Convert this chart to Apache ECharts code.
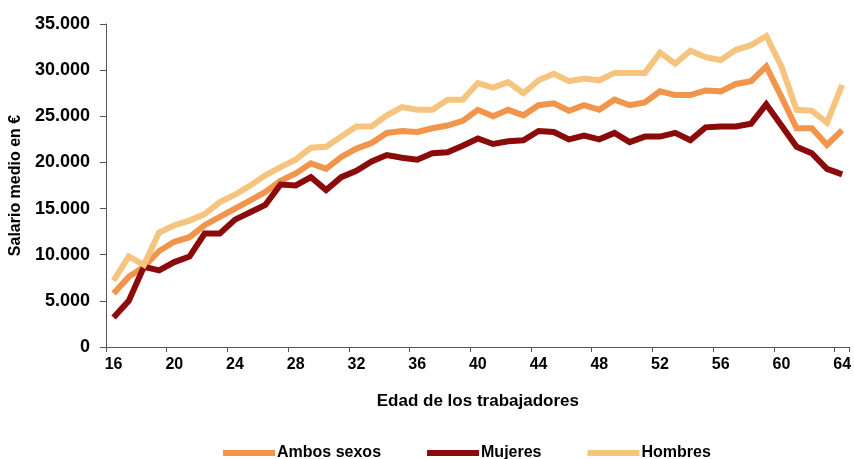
<!DOCTYPE html>
<html>
<head>
<meta charset="utf-8">
<script src="https://cdn.jsdelivr.net/npm/echarts@6/dist/echarts.min.js"></script>
<style>
html,body{margin:0;padding:0;background:#fff;}
#chart{width:854px;height:459px;}
</style>
</head>
<body>
<div id="chart"></div>
<script>
var ages = [];
for (var a = 16; a <= 64; a++) ages.push(String(a));

var ambos = [5800, 7600, 8700, 10400, 11400, 11900, 13200, 14100, 15000, 15900,
  16800, 18000, 18800, 19900, 19300, 20600, 21500, 22100, 23200, 23400,
  23300, 23700, 24000, 24500, 25700, 25000, 25700, 25100, 26200, 26400,
  25600, 26200, 25700, 26800, 26200, 26500, 27700, 27300, 27300, 27800,
  27700, 28500, 28800, 30400, 27100, 23700, 23700, 21900, 23500];

var mujeres = [3200, 5000, 8700, 8300, 9200, 9800, 12300, 12300, 13800, 14600,
  15400, 17600, 17500, 18400, 17000, 18400, 19100, 20100, 20800, 20500,
  20300, 21000, 21100, 21800, 22600, 22000, 22300, 22400, 23400, 23300,
  22500, 22900, 22500, 23200, 22200, 22800, 22800, 23200, 22400, 23800,
  23900, 23900, 24200, 26300, 24000, 21700, 21000, 19300, 18700];

var hombres = [7200, 9800, 8900, 12400, 13200, 13700, 14400, 15700, 16500, 17500,
  18600, 19500, 20300, 21600, 21700, 22800, 23900, 23900, 25100, 26000,
  25700, 25700, 26800, 26800, 28600, 28100, 28700, 27500, 28900, 29600,
  28800, 29100, 28900, 29700, 29700, 29700, 31900, 30700, 32100, 31400,
  31100, 32200, 32700, 33700, 30400, 25700, 25600, 24300, 28400];

var seriesNames = ['Ambos sexos', 'Mujeres', 'Hombres'];
var colors = ['#F0954B', '#8B0A0A', '#F5C47F'];

function fmt(v) {
  var s = String(Math.round(v));
  return s.replace(/\B(?=(\d{3})+(?!\d))/g, '.');
}

var font = '"Liberation Sans", Arial, sans-serif';
var chart = echarts.init(document.getElementById('chart'), null, {renderer: 'canvas'});

function mk(name, data, color) {
  return {
    name: name,
    type: 'line',
    data: data,
    showSymbol: false,
    symbol: 'none',
    lineStyle: {width: 6, color: color, cap: 'butt', join: 'miter'},
    itemStyle: {color: color},
    animation: false
  };
}

chart.setOption({
  animation: false,
  grid: {left: 106, right: 1, top: 24, bottom: 112, containLabel: false},
  legend: {
    data: seriesNames.map(function (n) { return {name: n, icon: 'rect'}; }),
    left: 218,
    top: 440,
    itemWidth: 52,
    itemHeight: 6,
    itemGap: 46,
    textStyle: {fontFamily: font, fontWeight: 'bold', fontSize: 16, color: '#000', padding: [0, 0, 0, -3]}
  },
  xAxis: {
    type: 'category',
    data: ages,
    boundaryGap: true,
    name: 'Edad de los trabajadores',
    nameLocation: 'middle',
    nameGap: 46,
    nameTextStyle: {fontFamily: font, fontWeight: 'bold', fontSize: 17, color: '#000', verticalAlign: 'top'},
    axisLine: {lineStyle: {color: '#555', width: 1}},
    axisTick: {show: true, interval: 3, length: 5, lineStyle: {color: '#555'}},
    axisLabel: {interval: 3, fontFamily: font, fontWeight: 'bold', fontSize: 16, color: '#000', margin: 10}
  },
  yAxis: {
    type: 'value',
    min: 0,
    max: 35000,
    interval: 5000,
    name: 'Salario medio en €',
    nameLocation: 'middle',
    nameGap: 74,
    nameRotate: 90,
    nameTextStyle: {fontFamily: font, fontWeight: 'bold', fontSize: 16, color: '#000'},
    splitLine: {show: false},
    axisLine: {show: true, lineStyle: {color: '#555', width: 1}},
    axisTick: {show: true, length: 6, lineStyle: {color: '#555'}},
    axisLabel: {formatter: fmt, fontFamily: font, fontWeight: 'bold', fontSize: 18, color: '#000', margin: 16}
  },
  series: [
    mk(seriesNames[0], ambos, colors[0]),
    mk(seriesNames[1], mujeres, colors[1]),
    mk(seriesNames[2], hombres, colors[2])
  ]
});
</script>
</body>
</html>
